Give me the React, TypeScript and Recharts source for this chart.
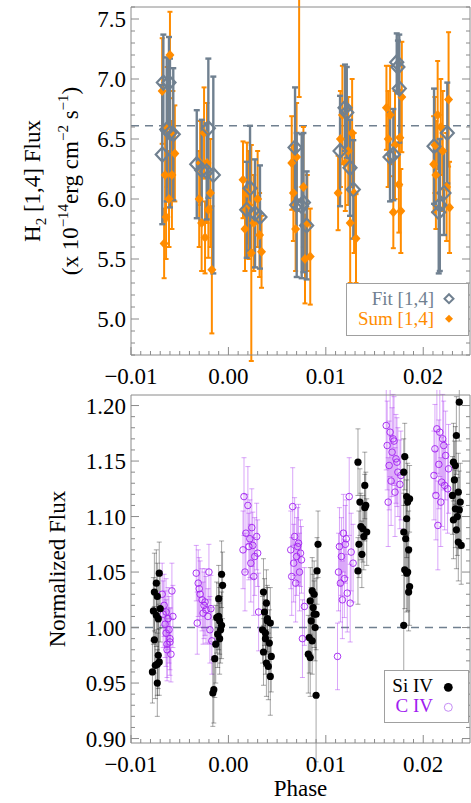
import { ScatterChart, Scatter, XAxis, YAxis, ErrorBar, ReferenceLine } from "recharts";

const SERIF = "'Liberation Serif', 'Times New Roman', serif";
const FRAME = "#8a8a8a";
const FIT_C = "#708090";
const SUM_C = "#ff8c00";
const SI_C = "#000000";
const CIV_C = "#a020f0";

// phase axis
const phaseDomain = [-0.01, 0.0248];
// flux axes
const h2Domain = [4.7, 7.6];
const h2Mean = 6.61;
const normDomain = [0.896, 1.2095];
const normMean = 1.0;

// [phase, flux, err]
const fitH2 = [
  [-0.00679, 6.37, 0.58], [-0.00668, 6.97, 0.40], [-0.00633, 6.58, 0.60], [-0.0061, 6.97, 0.38], [-0.006, 6.55, 0.62], [-0.00566, 6.54, 0.55],
  [-0.00325, 6.29, 0.45], [-0.00274, 6.24, 0.42], [-0.00206, 6.59, 0.58], [-0.00223, 6.23, 0.40], [-0.00155, 6.2, 0.82],
  [0.00188, 5.91, 0.40], [0.00222, 6.09, 0.52], [0.00273, 5.88, 0.45], [0.00324, 5.85, 0.43],
  [0.00684, 6.43, 0.50], [0.00701, 5.95, 0.60], [0.00752, 5.94, 0.60], [0.0077, 5.97, 0.58], [0.00803, 5.78, 0.45],
  [0.01146, 6.4, 0.46], [0.01197, 6.76, 0.36], [0.01215, 6.72, 0.38], [0.01248, 6.26, 0.40], [0.01282, 6.08, 0.41],
  [0.01659, 6.35, 0.37], [0.01693, 6.37, 0.38], [0.01728, 7.14, 0.24], [0.0174, 7.1, 0.22], [0.01754, 6.92, 0.45],
  [0.02111, 6.44, 0.48], [0.02159, 5.89, 0.51], [0.0217, 5.95, 0.55], [0.02213, 6.05, 0.35], [0.02247, 6.55, 0.42],
];

const sumH2 = [
  [-0.006, 7.2, 0.36], [-0.0066, 5.63, 0.29], [-0.0055, 6.38, 0.40], [-0.0068, 6.9, 0.44], [-0.0063, 6.6, 0.50],
  [-0.0058, 6.2, 0.45], [-0.0064, 5.85, 0.35], [-0.0057, 6.55, 0.35], [-0.0065, 6.2, 0.38], [-0.0061, 6.0, 0.40],
  [-0.00275, 5.8, 0.40], [-0.0024, 5.68, 0.30], [-0.0017, 5.41, 0.53], [-0.00206, 5.91, 0.40], [-0.0029, 6.3, 0.35],
  [-0.0025, 6.55, 0.38], [-0.0022, 6.3, 0.50], [-0.00185, 6.05, 0.45], [-0.003, 6.0, 0.40],
  [0.0015, 6.16, 0.32], [0.0034, 5.56, 0.30], [0.00235, 5.55, 0.90], [0.0019, 6.05, 0.42], [0.0026, 5.8, 0.40],
  [0.003, 6.0, 0.40], [0.0017, 5.75, 0.35], [0.0032, 5.7, 0.35], [0.0021, 5.95, 0.45],
  [0.00726, 7.75, 0.90], [0.0065, 6.3, 0.39], [0.0084, 5.52, 0.40], [0.00786, 5.5, 0.37], [0.00667, 6.05, 0.40],
  [0.007, 6.35, 0.45], [0.0077, 6.1, 0.50], [0.0081, 5.8, 0.40], [0.0069, 5.75, 0.35],
  [0.0131, 5.67, 0.37], [0.01126, 6.05, 0.31], [0.0117, 6.7, 0.41], [0.0123, 6.4, 0.45], [0.0127, 6.55, 0.45],
  [0.012, 6.3, 0.40], [0.0115, 6.5, 0.40], [0.0129, 6.05, 0.50], [0.0125, 5.8, 0.50],
  [0.01622, 6.76, 0.35], [0.0176, 6.51, 0.40], [0.0175, 6.12, 0.40], [0.01693, 5.89, 0.30], [0.0166, 6.7, 0.41],
  [0.0178, 6.85, 0.46], [0.0171, 6.45, 0.45], [0.0164, 6.5, 0.40], [0.0177, 5.9, 0.35],
  [0.0226, 6.83, 0.56], [0.02148, 6.7, 0.45], [0.02107, 6.29, 0.40], [0.0227, 5.93, 0.38], [0.0213, 6.2, 0.45],
  [0.022, 6.4, 0.50], [0.0224, 6.1, 0.45], [0.0218, 6.6, 0.40], [0.0212, 6.45, 0.40],
];

const siIV = [
  [-0.0078, 0.96, 0.028], [-0.0074, 1.04, 0.03], [-0.0076, 1.032, 0.035], [-0.0077, 1.015, 0.03], [-0.0074, 1.011, 0.028],
  [-0.0072, 1.008, 0.032], [-0.0071, 1.049, 0.028], [-0.0073, 1.028, 0.03], [-0.0076, 0.989, 0.03], [-0.0072, 0.975, 0.03],
  [-0.0075, 0.966, 0.03], [-0.0073, 0.967, 0.028], [-0.0071, 0.969, 0.03], [-0.0073, 0.95, 0.03], [-0.007, 1.017, 0.03],
  [-0.0007, 1.048, 0.03], [-0.0006, 1.038, 0.03], [-0.001, 1.026, 0.03], [-0.0012, 1.009, 0.032], [-0.0009, 1.006, 0.03],
  [-0.0007, 1.002, 0.03], [-0.0008, 0.998, 0.03], [-0.0011, 0.994, 0.03], [-0.0013, 0.985, 0.035], [-0.0009, 0.99, 0.032],
  [-0.0014, 0.972, 0.035], [-0.0015, 0.944, 0.03], [-0.0016, 0.941, 0.03], [-0.001, 1.01, 0.03],
  [0.0036, 1.032, 0.03], [0.0039, 1.022, 0.03], [0.0037, 1.014, 0.03], [0.004, 1.008, 0.03], [0.0043, 1.004, 0.032],
  [0.0035, 0.998, 0.03], [0.0038, 0.99, 0.032], [0.0042, 0.986, 0.03], [0.0036, 0.978, 0.03], [0.0044, 0.974, 0.032],
  [0.0039, 0.968, 0.03], [0.0041, 0.965, 0.03], [0.0043, 0.956, 0.035], [0.004, 1.006, 0.03], [0.0038, 0.995, 0.03],
  [0.0092, 1.075, 0.03], [0.0091, 1.051, 0.03], [0.0086, 1.033, 0.03], [0.0088, 1.03, 0.03], [0.0084, 1.024, 0.03],
  [0.0087, 1.018, 0.03], [0.009, 1.012, 0.032], [0.0085, 1.006, 0.03], [0.0089, 1.0, 0.03], [0.0083, 0.991, 0.032],
  [0.0086, 0.988, 0.03], [0.0082, 0.976, 0.035], [0.0084, 0.973, 0.035], [0.009, 0.939, 0.06], [0.0088, 1.012, 0.03],
  [0.0133, 1.149, 0.03], [0.014, 1.128, 0.03], [0.0135, 1.113, 0.03], [0.0141, 1.11, 0.03], [0.0136, 1.091, 0.03],
  [0.0142, 1.086, 0.03], [0.0139, 1.082, 0.03], [0.0134, 1.075, 0.03], [0.0137, 1.066, 0.03], [0.0133, 1.051, 0.03],
  [0.0138, 1.089, 0.03], [0.014, 1.108, 0.03],
  [0.0181, 1.154, 0.03], [0.018, 1.14, 0.03], [0.0183, 1.118, 0.035], [0.0186, 1.116, 0.03], [0.0184, 1.113, 0.035],
  [0.0183, 1.098, 0.035], [0.018, 1.086, 0.035], [0.0182, 1.08, 0.03], [0.0185, 1.07, 0.035], [0.0181, 1.052, 0.035],
  [0.0184, 1.05, 0.035], [0.0183, 1.049, 0.035], [0.0186, 1.037, 0.035], [0.0185, 1.032, 0.035], [0.018, 1.002, 0.045],
  [0.0237, 1.203, 0.035], [0.0234, 1.173, 0.035], [0.0231, 1.149, 0.035], [0.0232, 1.133, 0.035], [0.0236, 1.122, 0.035],
  [0.023, 1.119, 0.035], [0.0238, 1.113, 0.035], [0.0233, 1.107, 0.035], [0.0237, 1.106, 0.035], [0.0235, 1.1, 0.035],
  [0.0231, 1.097, 0.035], [0.0234, 1.088, 0.035], [0.0236, 1.077, 0.035], [0.0239, 1.074, 0.035], [0.0233, 1.146, 0.035],
];

const cIV = [
  [-0.0066, 1.02, 0.028], [-0.0064, 1.014, 0.03], [-0.0062, 1.008, 0.028], [-0.0065, 1.003, 0.03], [-0.0061, 0.998, 0.03],
  [-0.006, 0.99, 0.028], [-0.0063, 0.985, 0.03], [-0.0059, 0.976, 0.025], [-0.0058, 1.033, 0.025], [-0.0068, 1.03, 0.028],
  [-0.0057, 1.01, 0.028], [-0.006, 0.987, 0.03], [-0.0063, 0.98, 0.028], [-0.0067, 1.012, 0.03], [-0.0064, 0.995, 0.03],
  [-0.0033, 1.049, 0.025], [-0.0031, 1.04, 0.03], [-0.0029, 1.03, 0.03], [-0.0027, 1.025, 0.028], [-0.0025, 1.02, 0.03],
  [-0.0023, 1.016, 0.03], [-0.0021, 1.01, 0.025], [-0.0032, 1.004, 0.028], [-0.0019, 0.998, 0.03], [-0.0017, 0.988, 0.03],
  [-0.002, 1.05, 0.025], [-0.003, 1.035, 0.028], [-0.0024, 1.023, 0.03], [-0.0018, 1.017, 0.03], [-0.0026, 1.013, 0.028],
  [0.0016, 1.118, 0.035], [0.002, 1.11, 0.035], [0.0018, 1.085, 0.035], [0.0022, 1.08, 0.035], [0.0025, 1.074, 0.03],
  [0.0015, 1.07, 0.035], [0.0027, 1.064, 0.035], [0.0023, 1.058, 0.035], [0.0029, 1.082, 0.03], [0.0017, 1.05, 0.035],
  [0.0026, 1.046, 0.035], [0.0031, 1.014, 0.035], [0.0021, 1.073, 0.03], [0.003, 1.067, 0.03], [0.0024, 1.09, 0.035],
  [0.0066, 1.109, 0.035], [0.0068, 1.082, 0.035], [0.0072, 1.076, 0.035], [0.0064, 1.07, 0.035], [0.007, 1.064, 0.035],
  [0.0075, 1.061, 0.03], [0.0067, 1.058, 0.035], [0.0073, 1.05, 0.035], [0.0065, 1.046, 0.035], [0.0069, 1.04, 0.035],
  [0.0078, 1.019, 0.035], [0.0076, 0.99, 0.035], [0.0071, 1.073, 0.035], [0.0074, 1.067, 0.03],
  [0.0124, 1.118, 0.035], [0.0118, 1.085, 0.035], [0.0121, 1.08, 0.035], [0.0114, 1.073, 0.035], [0.0126, 1.068, 0.035],
  [0.0116, 1.064, 0.035], [0.0128, 1.058, 0.035], [0.0113, 1.05, 0.035], [0.0119, 1.044, 0.035], [0.0115, 1.04, 0.035],
  [0.0122, 1.031, 0.035], [0.0117, 1.025, 0.035], [0.0125, 1.022, 0.035], [0.0112, 0.974, 0.03], [0.012, 1.075, 0.035],
  [0.0162, 1.182, 0.04], [0.0166, 1.176, 0.04], [0.017, 1.168, 0.04], [0.0163, 1.164, 0.04], [0.0168, 1.158, 0.04],
  [0.0172, 1.152, 0.04], [0.0165, 1.146, 0.04], [0.0174, 1.14, 0.04], [0.0167, 1.132, 0.04], [0.0176, 1.129, 0.04],
  [0.0171, 1.122, 0.04], [0.0164, 1.113, 0.04], [0.0169, 1.17, 0.04], [0.0173, 1.149, 0.04], [0.0177, 1.137, 0.04],
  [0.0214, 1.179, 0.04], [0.0217, 1.176, 0.04], [0.022, 1.17, 0.04], [0.0212, 1.161, 0.04], [0.0223, 1.155, 0.04],
  [0.0216, 1.147, 0.04], [0.0211, 1.137, 0.04], [0.0219, 1.131, 0.04], [0.0225, 1.125, 0.04], [0.0213, 1.119, 0.04],
  [0.0218, 1.113, 0.04], [0.0215, 1.092, 0.04], [0.0221, 1.164, 0.04], [0.0226, 1.143, 0.04], [0.0222, 1.128, 0.04],
];

const rows = (a: number[][]) => a.map(([x, y, e]) => ({ x, y, e }));
const steps = (a: number, b: number, d: number) => {
  const out: number[] = [];
  for (let v = a; v <= b + 1e-9; v += d) out.push(Math.round(v * 1e6) / 1e6);
  return out;
};
const onStep = (v: number, d: number) => Math.abs(v / d - Math.round(v / d)) < 1e-6;

// tick positions: majors get labels, the rest are minor marks
const phaseTicks = steps(-0.01, phaseDomain[1], 0.001);
const h2Ticks = steps(4.7, 7.6, 0.1);
const normTicks = steps(0.9, 1.2, 0.01);

const fmtPhase = (v: number) => (v < 0 ? "\u2212" + Math.abs(v).toFixed(2) : v.toFixed(2));

function XTick(props: any) {
  const { x, y, payload, side, labels } = props;
  const v = payload.value;
  const major = onStep(v, 0.01);
  const len = major ? 8 : 4;
  const dir = side === "bottom" ? -1 : 1;
  return (
    <g>
      <line x1={x} y1={y} x2={x} y2={y + dir * len} stroke={FRAME} strokeWidth={1} />
      {labels && major && (
        <text x={x} y={y + 29} textAnchor="middle" fontSize={23} fontFamily={SERIF} fill="#000">
          {fmtPhase(v)}
        </text>
      )}
    </g>
  );
}

function YTick(props: any) {
  const { x, y, payload, side, major: step, digits } = props;
  const v = payload.value;
  const major = onStep(v, step);
  const len = major ? 8 : 4;
  const dir = side === "left" ? 1 : -1;
  return (
    <g>
      <line x1={x} y1={y} x2={x + dir * len} y2={y} stroke={FRAME} strokeWidth={1} />
      {side === "left" && major && (
        <text x={x - 5} y={y + 8} textAnchor="end" fontSize={23} fontFamily={SERIF} fill="#000">
          {v.toFixed(digits)}
        </text>
      )}
    </g>
  );
}

function H2Title(props: any) {
  const vb = props.viewBox || { y: 7, height: 348 };
  const cy = vb.y + vb.height / 2;
  return (
    <g fontFamily={SERIF} fontSize={23} fill="#000">
      <text x={40} y={cy} textAnchor="middle" transform={`rotate(-90, 40, ${cy})`}>
        H<tspan dy={6} fontSize={15}>2</tspan>
        <tspan dy={-6}> [1,4] Flux</tspan>
      </text>
      <text x={78} y={cy} textAnchor="middle" transform={`rotate(-90, 78, ${cy})`}>
        (x 10<tspan dy={-10} fontSize={15}>{"\u221214"}</tspan>
        <tspan dy={10}>erg cm</tspan>
        <tspan dy={-10} fontSize={15}>{"\u22122"}</tspan>
        <tspan dy={10}> s</tspan>
        <tspan dy={-10} fontSize={15}>{"\u22121"}</tspan>
        <tspan dy={10}>)</tspan>
      </text>
    </g>
  );
}

function NormTitle(props: any) {
  const vb = props.viewBox || { y: 5, height: 348 };
  const cy = vb.y + vb.height / 2;
  return (
    <text x={65} y={cy} textAnchor="middle" transform={`rotate(-90, 65, ${cy})`}
          fontFamily={SERIF} fontSize={23} fill="#000">
      Normalized Flux
    </text>
  );
}

function PhaseTitle(props: any) {
  const vb = props.viewBox || { x: 131, y: 353, width: 339 };
  return (
    <text x={vb.x + vb.width / 2} y={vb.y + 53} textAnchor="middle" fontFamily={SERIF} fontSize={23} fill="#000">
      Phase
    </text>
  );
}

const diamondPath = (cx: number, cy: number, w: number, h: number) =>
  `M${cx},${cy - h}L${cx + w},${cy}L${cx},${cy + h}L${cx - w},${cy}Z`;

const openDiamond = (p: any) => (
  <path d={diamondPath(p.cx, p.cy, 6.5, 7)} fill="none" stroke={FIT_C} strokeWidth={2.2} />
);
const solidDiamond = (p: any) => <path d={diamondPath(p.cx, p.cy, 4.5, 5)} fill={SUM_C} />;
const dot = (p: any) => <circle cx={p.cx} cy={p.cy} r={3.6} fill={SI_C} />;
const ring = (p: any) => <circle cx={p.cx} cy={p.cy} r={3.3} fill="none" stroke={CIV_C} strokeWidth={0.9} />;

// smaller legend symbols
const legOpenDiamond = (p: any) => (
  <path d={diamondPath(p.cx, p.cy, 4.5, 4.5)} fill="none" stroke={FIT_C} strokeWidth={2} />
);
const legSolidDiamond = (p: any) => <path d={diamondPath(p.cx, p.cy, 4, 4)} fill={SUM_C} />;
const legDot = (p: any) => <circle cx={p.cx} cy={p.cy} r={4.4} fill={SI_C} />;
const legRing = (p: any) => <circle cx={p.cx} cy={p.cy} r={4} fill="none" stroke="#c58cf5" strokeWidth={1} />;

function Frame({ yDomain, yTicks, yMajor, digits, title, xTitle }: any) {
  return [
    <XAxis key="xb" xAxisId="b" type="number" dataKey="x" domain={phaseDomain} allowDataOverflow
           ticks={phaseTicks} interval={0} tickLine={false} tickSize={0} tickMargin={0}
           stroke={FRAME} height={xTitle ? 60 : 35}
           tick={(p: any) => <XTick {...p} side="bottom" labels />}
           label={xTitle ? <PhaseTitle /> : undefined} />,
    <XAxis key="xt" xAxisId="t" orientation="top" type="number" domain={phaseDomain} allowDataOverflow
           ticks={phaseTicks} interval={0} tickLine={false} tickSize={0} tickMargin={0}
           stroke={FRAME} height={1}
           tick={(p: any) => <XTick {...p} side="top" />} />,
    <YAxis key="yl" yAxisId="l" type="number" dataKey="y" domain={yDomain} allowDataOverflow
           ticks={yTicks} interval={0} tickLine={false} tickSize={0} tickMargin={0}
           stroke={FRAME} width={131}
           tick={(p: any) => <YTick {...p} side="left" major={yMajor} digits={digits} />}
           label={title} />,
    <YAxis key="yr" yAxisId="r" orientation="right" type="number" domain={yDomain} allowDataOverflow
           ticks={yTicks} interval={0} tickLine={false} tickSize={0} tickMargin={0}
           stroke={FRAME} width={1}
           tick={(p: any) => <YTick {...p} side="right" major={yMajor} digits={digits} />} />,
  ];
}

function Legend({ left, top, width, items }: any) {
  return (
    <svg style={{ position: "absolute", left, top }} width={width} height={53}>
      <rect x={0.5} y={0.5} width={width - 1} height={52} fill="#fff" stroke="#a0a0a0" strokeWidth={1} />
      {items.map((it: any, i: number) => (
        <g key={it.label}>
          <text x={it.textEnd} y={21.7 + i * 20} textAnchor="end" fontFamily={SERIF} fontSize={19} fill={it.color}>
            {it.label}
          </text>
          {it.mark({ cx: it.markX, cy: it.markY + i * 20 })}
        </g>
      ))}
    </svg>
  );
}

export default function App() {
  return (
    <div style={{ position: "absolute", left: 0, top: 0, width: 471, height: 803, background: "#fff" }}>
      <div style={{ position: "absolute", left: 0, top: 0 }}>
        <ScatterChart width={471} height={390} margin={{ top: 6, right: 0, bottom: 0, left: 0 }}>
          {Frame({ yDomain: h2Domain, yTicks: h2Ticks, yMajor: 0.5, digits: 1, title: <H2Title /> })}
          <ReferenceLine xAxisId="b" yAxisId="l" y={h2Mean} stroke={FIT_C} strokeWidth={1.6} strokeDasharray="8 6" />
          <Scatter name="Sum [1,4]" xAxisId="b" yAxisId="l" data={rows(sumH2)} shape={solidDiamond} isAnimationActive={false}>
            <ErrorBar dataKey="e" direction="y" width={2.5} stroke={SUM_C} strokeWidth={2} />
          </Scatter>
          <Scatter name="Fit [1,4]" xAxisId="b" yAxisId="l" data={rows(fitH2)} shape={openDiamond} isAnimationActive={false}>
            <ErrorBar dataKey="e" direction="y" width={3} stroke={FIT_C} strokeWidth={2.4} />
          </Scatter>
        </ScatterChart>
      </div>
      <div style={{ position: "absolute", left: 0, top: 390 }}>
        <ScatterChart width={471} height={413} margin={{ top: 4, right: 0, bottom: 0, left: 0 }}>
          {Frame({ yDomain: normDomain, yTicks: normTicks, yMajor: 0.05, digits: 2, title: <NormTitle />, xTitle: true })}
          <ReferenceLine xAxisId="b" yAxisId="l" y={normMean} stroke={FIT_C} strokeWidth={1.6} strokeDasharray="8 6" />
          <Scatter name="C IV" xAxisId="b" yAxisId="l" data={rows(cIV)} shape={ring} isAnimationActive={false}>
            <ErrorBar dataKey="e" direction="y" width={2.5} stroke={CIV_C} strokeOpacity={0.4} strokeWidth={1} />
          </Scatter>
          <Scatter name="Si IV" xAxisId="b" yAxisId="l" data={rows(siIV)} shape={dot} isAnimationActive={false}>
            <ErrorBar dataKey="e" direction="y" width={2.5} stroke={SI_C} strokeOpacity={0.35} strokeWidth={1} />
          </Scatter>
        </ScatterChart>
      </div>
      <Legend left={346} top={283} width={123} items={[
        { label: "Fit [1,4]", color: FIT_C, textEnd: 88, markX: 103, markY: 15.7, mark: legOpenDiamond },
        { label: "Sum [1,4]", color: SUM_C, textEnd: 88, markX: 103, markY: 15.7, mark: legSolidDiamond },
      ]} />
      <Legend left={384} top={670} width={85} items={[
        { label: "Si IV", color: SI_C, textEnd: 49, markX: 64.3, markY: 17.3, mark: legDot },
        { label: "C IV", color: CIV_C, textEnd: 49, markX: 64.3, markY: 17.3, mark: legRing },
      ]} />
    </div>
  );
}
